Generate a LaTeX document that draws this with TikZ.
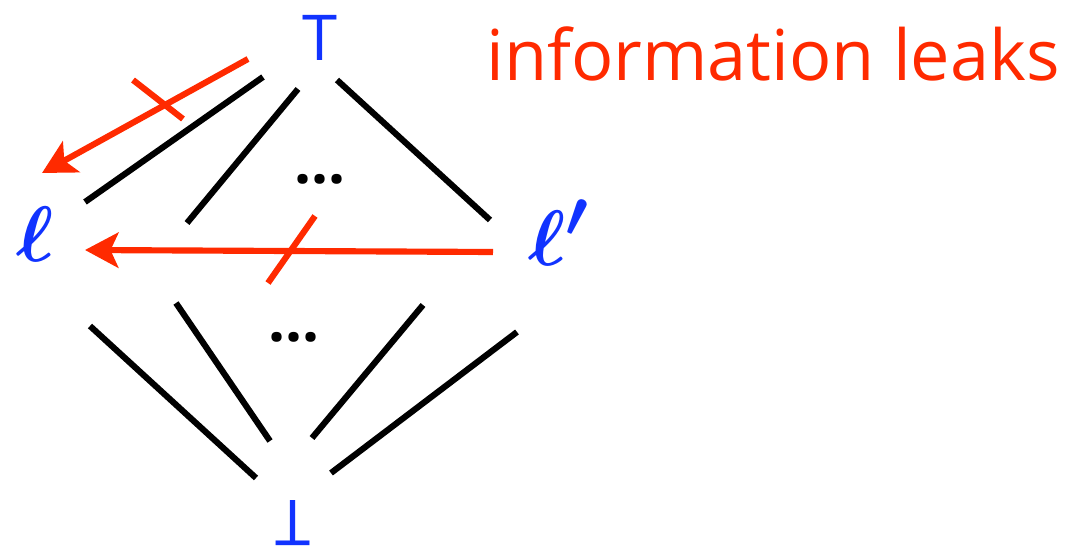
\documentclass[tikz,border=0pt]{standalone}
\usepackage{fontspec}
\setmainfont{Open Sans}
\usetikzlibrary{arrows.meta}
\definecolor{leakred}{RGB}{255,42,0}
\definecolor{lblue}{RGB}{17,51,255}
\tikzset{
    edge/.style={line width=3.5pt},
    leak/.style={leakred,line width=3.5pt,-{Stealth[length=19pt,width=20pt,inset=4.5pt]}},
    cut/.style={leakred,line width=3.5pt},
    lab/.style={lblue,inner sep=0pt},
    ell/.style={lab,scale=1.8,font=\Huge\boldmath},
}
\begin{document}
\begin{tikzpicture}[x=0.02cm,y=-0.02cm]
    \useasboundingbox (0,0) rectangle (1069,547);
    % lattice points
    \node[lab,font=\fontsize{36}{40}\selectfont] (top) at (320,38) {T};
    \node[lab,font=\fontsize{36}{40}\selectfont,rotate=180] (bot) at (293,523) {T};
    \node[ell] (lft) at (35,234) {$\ell$};
    \node[ell,anchor=west] (rgt) at (528,233) {$\ell'$};
    \node[font=\fontsize{34}{40}\selectfont\bfseries] (dtop) at (320,179) {...};
    \node[font=\fontsize{34}{40}\selectfont\bfseries] (dbot) at (294,337) {...};
    % edge ends
    \coordinate (e1) at (263,77);  \coordinate (f1) at (85,202);
    \coordinate (e2) at (298,89);  \coordinate (f2) at (187,223);
    \coordinate (e3) at (337,80);  \coordinate (f3) at (490,220);
    \coordinate (e4) at (90,326);  \coordinate (f4) at (256,478);
    \coordinate (e5) at (176,303); \coordinate (f5) at (270,441);
    \coordinate (e6) at (423,305); \coordinate (f6) at (312,438);
    \coordinate (e7) at (517,332); \coordinate (f7) at (331,473);
    \draw[edge] (e1) -- (f1);
    \draw[edge] (e2) -- (f2);
    \draw[edge] (e3) -- (f3);
    \draw[edge] (e4) -- (f4);
    \draw[edge] (e5) -- (f5);
    \draw[edge] (e6) -- (f6);
    \draw[edge] (e7) -- (f7);
    % leaks
    \coordinate (a1) at (248,59);  \coordinate (b1) at (42,173);
    \coordinate (a2) at (493,252); \coordinate (b2) at (85,250);
    \draw[leak] (a1) -- (b1);
    \draw[leak] (a2) -- (b2);
    \coordinate (c1) at (133,80);  \coordinate (d1) at (183,119);
    \coordinate (c2) at (315,216); \coordinate (d2) at (268,283);
    \draw[cut] (c1) -- (d1);
    \draw[cut] (c2) -- (d2);
    % lecture note
    \node[leakred,inner sep=0pt,anchor=base west,font=\fontsize{40}{48}\selectfont] (info) at (486,81) {information leaks};
\end{tikzpicture}
\end{document}
